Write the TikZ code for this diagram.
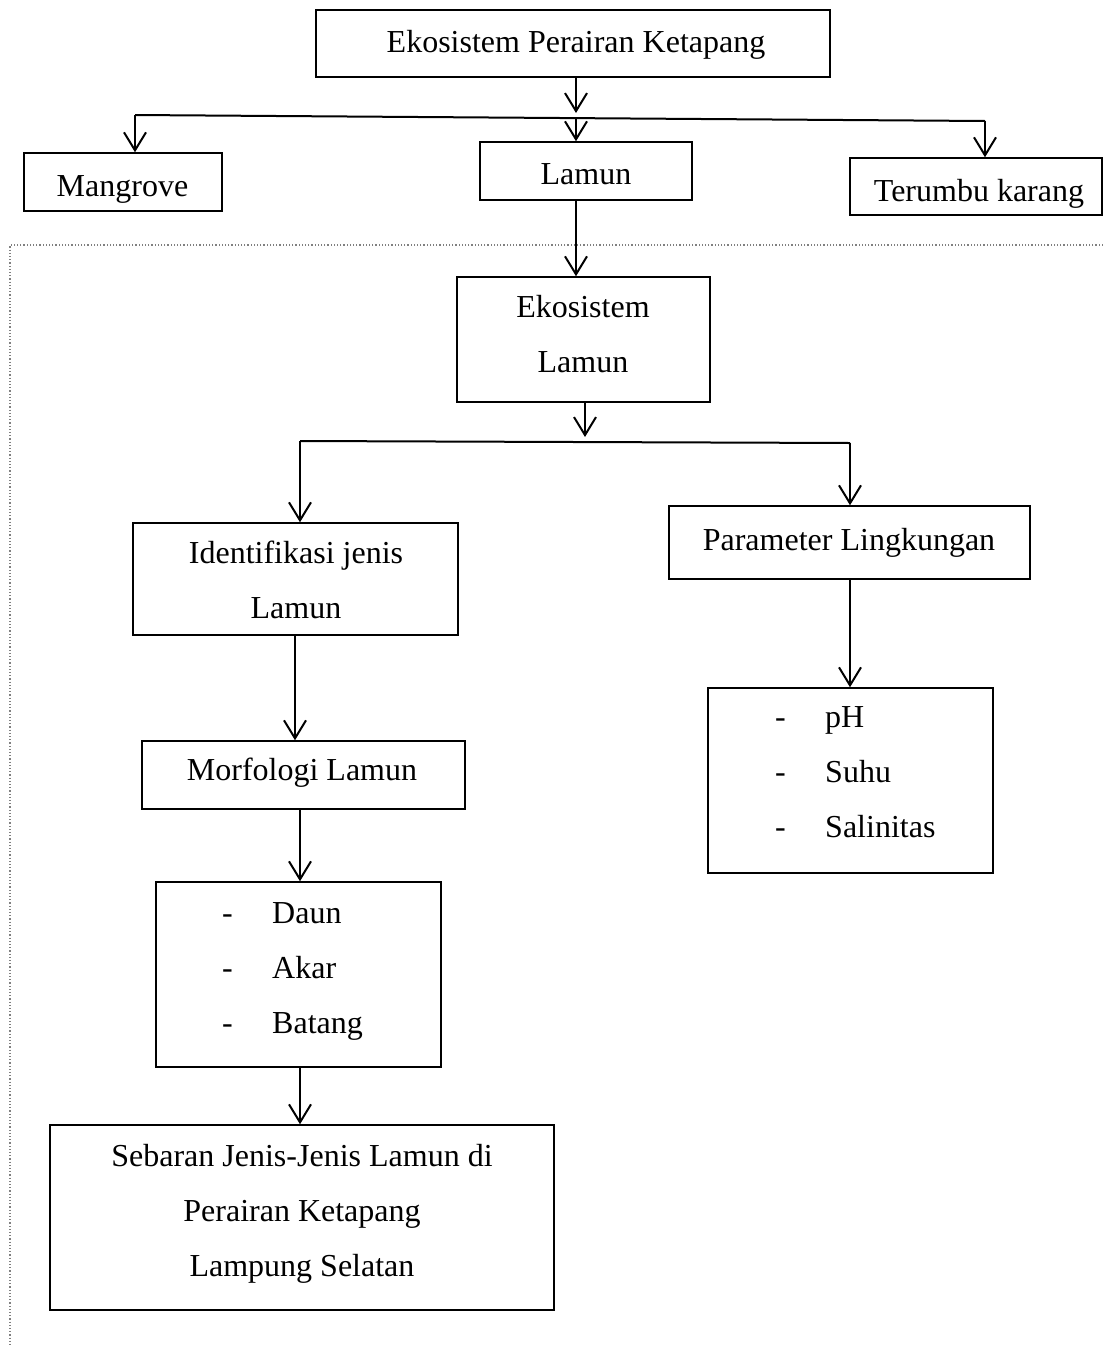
\documentclass[tikz,border=0pt]{standalone}
\usepackage{fontspec}
\setmainfont{Liberation Serif}
\usetikzlibrary{arrows.meta}
\begin{document}
\begin{tikzpicture}[x=1pt,y=-1pt,
  box/.style={draw=black,line width=1.5pt,inner sep=0pt},
  arr/.style={line width=2pt,-{Straight Barb[length=18pt,width=22pt,line width=2pt]}},
  ln/.style={line width=2pt},
  txt/.style={inner sep=0pt,anchor=base,font=\fontsize{32pt}{55pt}\selectfont},
  frame/.style={draw=gray,dotted,line width=1.2pt}
]
\useasboundingbox (0,0) rectangle (1103,1347);

% dotted frame
\coordinate (fTR) at (1103,245);
\coordinate (fTL) at (10,245);
\coordinate (fBL) at (10,1347);
\draw[frame] (fTR) -- (fTL) -- (fBL);

% boxes
\node[box,minimum width=514pt,minimum height=67pt] (top) at (573,43.5) {};
\node[box,minimum width=198pt,minimum height=58pt] (mangrove) at (123,182) {};
\node[box,minimum width=212pt,minimum height=58pt] (lamun) at (586,171) {};
\node[box,minimum width=252pt,minimum height=57pt] (terumbu) at (976,186.5) {};
\node[box,minimum width=253pt,minimum height=125pt] (ekolamun) at (583.5,339.5) {};
\node[box,minimum width=325pt,minimum height=112pt] (ident) at (295.5,579) {};
\node[box,minimum width=361pt,minimum height=73pt] (param) at (849.5,542.5) {};
\node[box,minimum width=323pt,minimum height=68pt] (morf) at (303.5,775) {};
\node[box,minimum width=285pt,minimum height=185pt] (organ) at (298.5,974.5) {};
\node[box,minimum width=285pt,minimum height=185pt] (plist) at (850.5,780.5) {};
\node[box,minimum width=504pt,minimum height=185pt] (sebaran) at (302,1217.5) {};

% texts
\node[txt] (ttop) at (576,52) {Ekosistem Perairan Ketapang};
\node[txt] (tmang) at (122.5,196) {Mangrove};
\node[txt] (tlam) at (586,184) {Lamun};
\node[txt] (tter) at (979,201) {Terumbu karang};
\node[txt] (teko1) at (583,317) {Ekosistem};
\node[txt] (teko2) at (583,372) {Lamun};
\node[txt] (tid1) at (296,563) {Identifikasi jenis};
\node[txt] (tid2) at (296,618) {Lamun};
\node[txt] (tpar) at (849,550) {Parameter Lingkungan};
\node[txt] (tmorf) at (302,780) {Morfologi Lamun};
\node[txt] (tseb1) at (302,1166) {Sebaran Jenis-Jenis Lamun di};
\node[txt] (tseb2) at (302,1221) {Perairan Ketapang};
\node[txt] (tseb3) at (302,1276) {Lampung Selatan};

% list items
\node[txt,anchor=base east] (d1) at (233,923) {-};
\node[txt,anchor=base west] (t1) at (272,923) {Daun};
\node[txt,anchor=base east] (d2) at (233,978) {-};
\node[txt,anchor=base west] (t2) at (272,978) {Akar};
\node[txt,anchor=base east] (d3) at (233,1033) {-};
\node[txt,anchor=base west] (t3) at (272,1033) {Batang};

\node[txt,anchor=base east] (p1) at (786,727) {-};
\node[txt,anchor=base west] (q1) at (825,727) {pH};
\node[txt,anchor=base east] (p2) at (786,782) {-};
\node[txt,anchor=base west] (q2) at (825,782) {Suhu};
\node[txt,anchor=base east] (p3) at (786,837) {-};
\node[txt,anchor=base west] (q3) at (825,837) {Salinitas};

% level 1 connectors
\coordinate (hL) at (135,115);
\coordinate (hM) at (576,118);
\coordinate (hR) at (985,121);
\coordinate (j1) at (576,113);
\draw[arr] (top.south -| j1) -- (j1);
\draw[ln] (hL) -- (hR);
\draw[arr] (hL) -- (hL |- mangrove.north);
\draw[arr] (hM) -- (hM |- lamun.north);
\draw[arr] (hR) -- (hR |- terumbu.north);
\draw[arr] (lamun.south -| hM) -- (hM |- ekolamun.north);

% level 2 connectors
\coordinate (e1) at (585,437);
\coordinate (gL) at (300,441);
\coordinate (gR) at (850,443);
\draw[arr] (ekolamun.south -| e1) -- (e1);
\draw[ln] (gL) -- (gR);
\draw[arr] (gL) -- (gL |- ident.north);
\draw[arr] (gR) -- (gR |- param.north);
\draw[arr] (param.south -| gR) -- (gR |- plist.north);

% left chain
\coordinate (c1) at (295,0);
\coordinate (c2) at (300,0);
\draw[arr] (ident.south -| c1) -- (morf.north -| c1);
\draw[arr] (morf.south -| c2) -- (organ.north -| c2);
\draw[arr] (organ.south -| c2) -- (sebaran.north -| c2);
\end{tikzpicture}
\end{document}
